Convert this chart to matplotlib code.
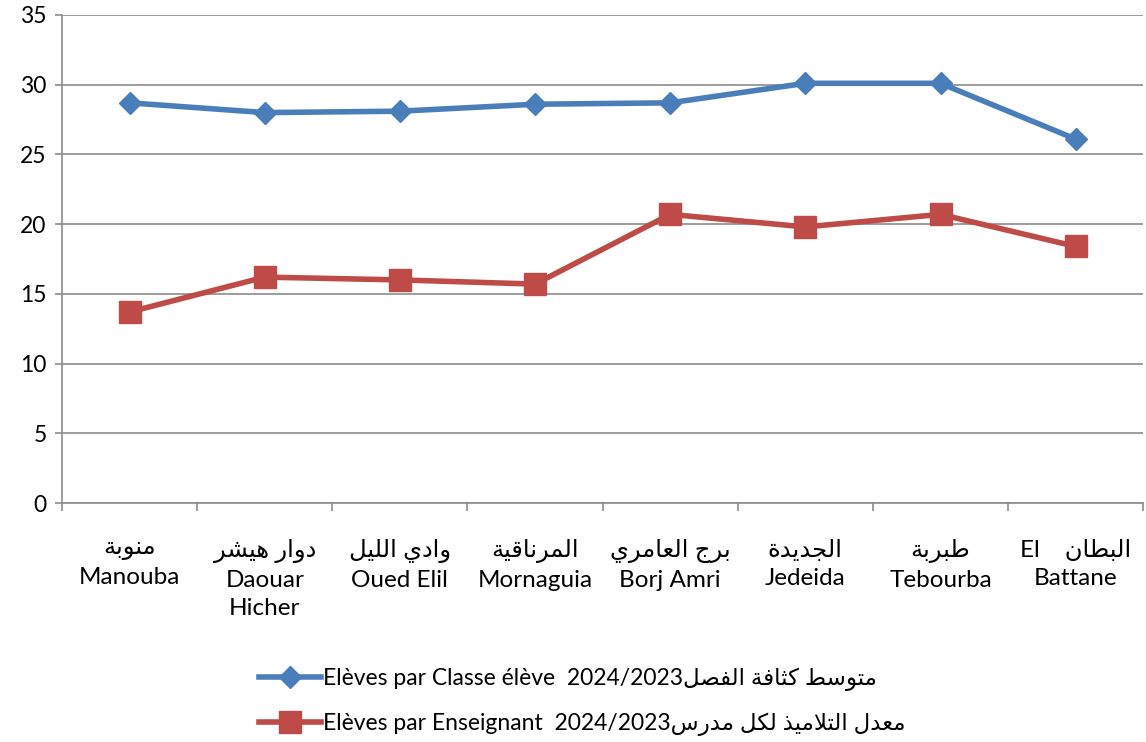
import matplotlib
matplotlib.use('Agg')
import matplotlib.pyplot as plt
from matplotlib.ticker import FixedLocator

# data
delegations_ar = ['منوبة', 'دوار هيشر', 'وادي الليل', 'المرناقية',
                  'برج العامري', 'الجديدة', 'طبربة', 'البطان']
delegations_fr = ['Manouba', 'Daouar\nHicher', 'Oued Elil', 'Mornaguia',
                  'Borj Amri', 'Jedeida', 'Tebourba', 'Battane']
eleves_classe = [28.7, 28.0, 28.1, 28.6, 28.7, 30.1, 30.1, 26.1]
eleves_enseignant = [13.7, 16.2, 16.0, 15.7, 20.7, 19.8, 20.7, 18.4]
label_classe_fr = 'Elèves par Classe élève  2024/2023'
label_classe_ar = 'متوسط كثافة الفصل'
label_ens_fr = 'Elèves par Enseignant  2024/2023'
label_ens_ar = 'معدل التلاميذ لكل مدرس'

# matplotlib has no arabic shaping, so pick presentation forms by hand
# (start code point of the isolated form, dual-joining?)
AR_FORMS = {
    'ا': (0xFE8D, False), 'ب': (0xFE8F, True), 'ة': (0xFE93, False),
    'ت': (0xFE95, True), 'ث': (0xFE99, True), 'ج': (0xFE9D, True),
    'د': (0xFEA9, False), 'ذ': (0xFEAB, False), 'ر': (0xFEAD, False),
    'س': (0xFEB1, True), 'ش': (0xFEB5, True), 'ص': (0xFEB9, True),
    'ط': (0xFEC1, True), 'ع': (0xFEC9, True), 'ف': (0xFED1, True),
    'ق': (0xFED5, True), 'ك': (0xFED9, True), 'ل': (0xFEDD, True),
    'م': (0xFEE1, True), 'ن': (0xFEE5, True), 'ه': (0xFEE9, True),
    'و': (0xFEED, False), 'ي': (0xFEF1, True),
}


def shape_ar(text):
    out = []
    i = 0
    n = len(text)
    while i < n:
        c = text[i]
        if c not in AR_FORMS:
            out.append(c)
            i += 1
            continue
        prev = text[i - 1] if i > 0 else ''
        joins_prev = prev in AR_FORMS and AR_FORMS[prev][1]
        # lam-alef ligature
        if c == 'ل' and i + 1 < n and text[i + 1] == 'ا':
            out.append(chr(0xFEFC if joins_prev else 0xFEFB))
            i += 2
            continue
        base, dual = AR_FORMS[c]
        nxt = text[i + 1] if i + 1 < n else ''
        joins_next = dual and nxt in AR_FORMS
        if joins_prev and joins_next:
            form = 3
        elif joins_prev:
            form = 1
        elif joins_next:
            form = 2
        else:
            form = 0
        out.append(chr(base + form))
        i += 1
    return ''.join(reversed(out))


plt.rcParams['font.family'] = ['Lato', 'DejaVu Sans']
plt.rcParams['font.size'] = 16.5

blue = '#4A7EBB'
red = '#BE4B48'
grey = '#8C8C8C'

tick_labels = []
for ar, fr in zip(delegations_ar, delegations_fr):
    if fr == 'Battane':
        tick_labels.append('El    ' + shape_ar(ar) + '\n' + fr)
    else:
        tick_labels.append(shape_ar(ar) + '\n' + fr)

fig = plt.figure(figsize=(11.46, 7.42), dpi=100)
ax = fig.add_axes([0.0541, 0.3221, 0.9435, 0.6577])

x = list(range(len(eleves_classe)))
ax.plot(x, eleves_classe, color=blue, lw=4.0, marker='D', ms=11.5,
        label=label_classe_fr + shape_ar(label_classe_ar), zorder=3)
ax.plot(x, eleves_enseignant, color=red, lw=4.0, marker='s', ms=16.5,
        label=label_ens_fr + shape_ar(label_ens_ar), zorder=3)

ax.set_ylim(0, 35)
ax.set_xlim(-0.5, len(x) - 0.5)
ax.set_yticks(range(0, 36, 5))
ax.yaxis.grid(True, color=grey, lw=1.2)
ax.set_axisbelow(True)

ax.set_xticks(x)
ax.set_xticklabels(tick_labels, linespacing=1.4, fontsize=17.5)
ax.xaxis.set_minor_locator(FixedLocator([i - 0.5 for i in range(len(x) + 1)]))
ax.tick_params(axis='x', which='major', length=0, pad=26)
ax.tick_params(axis='x', which='minor', length=6, width=1.2, color=grey, direction='out')
ax.tick_params(axis='y', length=5, width=1.2, color=grey, pad=6)

for s in ['top', 'right']:
    ax.spines[s].set_visible(False)
for s in ['left', 'bottom']:
    ax.spines[s].set_color(grey)
    ax.spines[s].set_linewidth(1.2)

fig.legend(loc='upper left', bbox_to_anchor=(0.218, 0.113), frameon=False,
           handlelength=2.7, handletextpad=0.1, labelspacing=0.95,
           borderaxespad=0, fontsize=16.5)

fig.savefig('out.png', dpi=100)
